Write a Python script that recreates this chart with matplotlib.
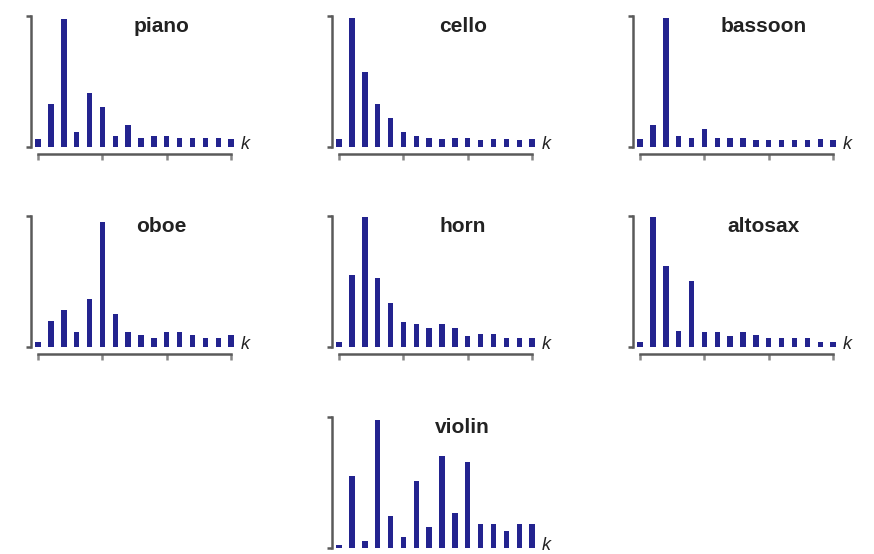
import matplotlib
matplotlib.use("Agg")
import matplotlib.pyplot as plt
import numpy as np

# harmonic amplitudes k = 1..16, normalised to the axis height
instruments = ["piano", "cello", "bassoon", "oboe", "horn", "altosax", "violin"]
piano = [0.056, 0.327, 0.974, 0.11, 0.413, 0.30, 0.084, 0.166, 0.064, 0.084, 0.084, 0.064, 0.064, 0.064, 0.064, 0.056]
cello = [0.056, 0.982, 0.574, 0.327, 0.217, 0.11, 0.082, 0.064, 0.056, 0.064, 0.064, 0.051, 0.056, 0.056, 0.051, 0.056]
bassoon = [0.056, 0.166, 0.982, 0.084, 0.064, 0.135, 0.064, 0.064, 0.064, 0.051, 0.051, 0.051, 0.051, 0.051, 0.056, 0.051]
oboe = [0.038, 0.197, 0.278, 0.114, 0.362, 0.949, 0.248, 0.109, 0.089, 0.063, 0.109, 0.109, 0.089, 0.063, 0.063, 0.089]
horn = [0.038, 0.551, 0.99, 0.526, 0.333, 0.192, 0.172, 0.146, 0.172, 0.146, 0.085, 0.095, 0.095, 0.064, 0.064, 0.064]
altosax = [0.038, 0.987, 0.615, 0.121, 0.5, 0.115, 0.115, 0.085, 0.115, 0.09, 0.064, 0.064, 0.064, 0.064, 0.038, 0.038]
violin = [0.025, 0.547, 0.056, 0.98, 0.242, 0.081, 0.509, 0.158, 0.70, 0.267, 0.654, 0.183, 0.183, 0.132, 0.183, 0.183]
spectra = [piano, cello, bassoon, oboe, horn, altosax, violin]

W, H = 874, 554
fig = plt.figure(figsize=(W / 100, H / 100), dpi=100)

# panel anchors in pixels: (left spine x, baseline y)
spine_x = [31, 332, 633]
base_y = [146.7, 346.7, 548]
cells = [(0, 0), (0, 1), (0, 2), (1, 0), (1, 1), (1, 2), (2, 1)]
step = 12.87
x0, x1 = -0.55, 15.5
bar_color = "#23238f"
axis_color = "#5a5a5a"

for name, vals, (r, c) in zip(instruments, spectra, cells):
    wpx = (x1 - x0) * step
    hpx = 131
    ax = fig.add_axes([spine_x[c] / W, (H - base_y[r]) / H, wpx / W, hpx / H])
    k = np.arange(len(vals))
    ax.bar(k, vals, width=0.42, color=bar_color)
    ax.set_xlim(x0, x1)
    ax.set_ylim(0, 1)
    for s in ["top", "right"]:
        ax.spines[s].set_visible(False)
    ax.spines["left"].set_color(axis_color)
    ax.spines["left"].set_linewidth(1.8)
    ax.spines["bottom"].set_color(axis_color)
    ax.spines["bottom"].set_linewidth(1.8)
    ax.spines["bottom"].set_position(("outward", 5))
    ax.spines["bottom"].set_bounds(0, 15)
    ax.set_yticks([0, 1])
    ax.set_xticks([0, 5, 10, 15])
    ax.tick_params(axis="y", length=3.5, width=1.8, color=axis_color, labelleft=False)
    ax.tick_params(axis="x", length=4, width=1.8, color="#888888", labelbottom=False)
    ax.patch.set_visible(False)
    ax.text(9.6, 0.99, name, ha="center", va="top", fontsize=15, fontweight="bold",
            family="Liberation Sans", color="#222222")
    ax.text(16.1, 0.02, "k", ha="center", va="center", fontsize=13, style="italic",
            family="Liberation Sans", color="#222222", clip_on=False)

fig.savefig("out.png", dpi=100)
